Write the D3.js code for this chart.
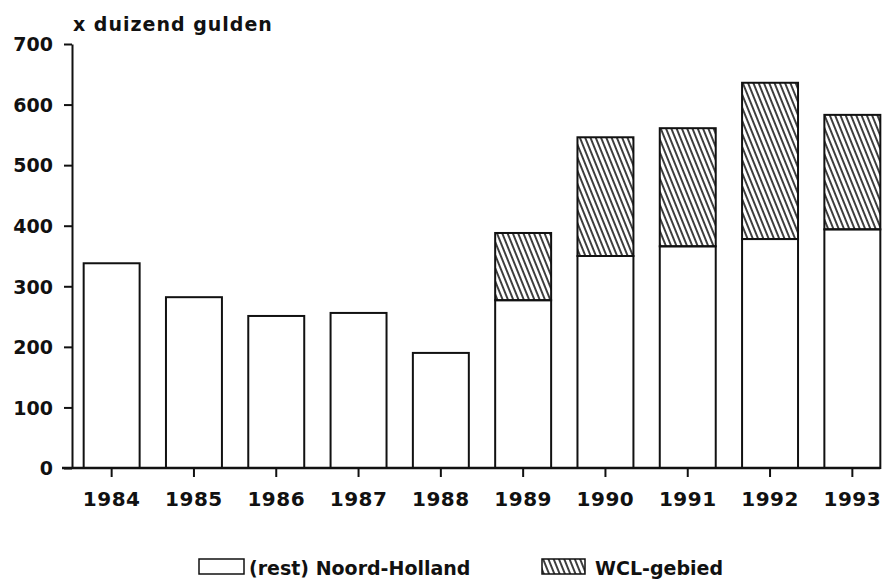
<!DOCTYPE html>
<html>
<head>
<meta charset="utf-8">
<script src="https://cdn.jsdelivr.net/npm/d3@7"></script>
<style>
  body { margin: 0; background: #fff; }
  svg text { font-family: "DejaVu Sans", sans-serif; font-weight: bold; fill: #111; }
</style>
</head>
<body>
<svg id="chart"></svg>
<script>
// values in thousands of guilders
const years = ['1984','1985','1986','1987','1988','1989','1990','1991','1992','1993']
const restNH = [338, 282, 251, 256, 190, 277, 350, 366, 378, 394]
const wcl = [0, 0, 0, 0, 0, 111, 196, 195, 258, 189]
const yTicks = [0, 100, 200, 300, 400, 500, 600, 700]
const seriesNames = ['(rest) Noord-Holland', 'WCL-gebied']

const width = 885, height = 585
const margin = {top: 44, right: 5, bottom: 117, left: 72}

const svg = d3.select('#chart')
  .attr('width', width)
  .attr('height', height)

// hatch for the WCL part
const defs = svg.append('defs')
defs.append('pattern')
  .attr('id', 'hatch')
  .attr('patternUnits', 'userSpaceOnUse')
  .attr('width', 4.9)
  .attr('height', 10)
  .attr('patternTransform', 'rotate(-22)')
  .append('line')
    .attr('x1', 1).attr('y1', 0)
    .attr('x2', 1).attr('y2', 10)
    .attr('stroke', '#111')
    .attr('stroke-width', 1.6)

const table = years.map((y, i) => ({year: y, rest: restNH[i], wcl: wcl[i]}))
const stacked = d3.stack().keys(['rest', 'wcl'])(table)

const x = d3.scaleBand()
  .domain(years)
  .range([70.5, 893.5])
  .paddingInner(0.32)
  .paddingOuter(0.16)

const y = d3.scaleLinear()
  .domain([0, 700])
  .range([height - margin.bottom, margin.top])

// bars
const fills = ['#fff', 'url(#hatch)']
svg.append('g')
  .selectAll('g')
  .data(stacked)
  .join('g')
    .attr('fill', (d, i) => fills[i])
    .attr('stroke', '#111')
    .attr('stroke-width', 2)
  .selectAll('rect')
  .data(d => d.filter(p => p[1] - p[0] > 0))
  .join('rect')
    .attr('x', d => x(d.data.year))
    .attr('y', d => y(d[1]))
    .attr('width', x.bandwidth())
    .attr('height', d => y(d[0]) - y(d[1]))

// y axis
const yAxis = svg.append('g')
  .attr('transform', 'translate(' + margin.left + ',0)')
  .call(d3.axisLeft(y).tickValues(yTicks).tickSize(8).tickSizeOuter(0).tickPadding(11))
yAxis.select('.domain').attr('stroke', '#111').attr('stroke-width', 2)
yAxis.selectAll('.tick line').attr('stroke', '#111').attr('stroke-width', 2)
yAxis.selectAll('.tick text').style('font-size', '19px').attr('dy', '0.36em')

// x axis
const xAxis = svg.append('g')
  .attr('transform', 'translate(0,' + y(0) + ')')
  .call(d3.axisBottom(x).tickSize(9).tickSizeOuter(0).tickPadding(15))
xAxis.select('.domain').remove()
xAxis.selectAll('.tick line').attr('stroke', '#111').attr('stroke-width', 2)
xAxis.selectAll('.tick text').style('font-size', '20px').style('letter-spacing', '0.5px')

svg.append('line')
  .attr('x1', 62)
  .attr('x2', x(years[years.length - 1]) + x.bandwidth())
  .attr('y1', y(0)).attr('y2', y(0))
  .attr('stroke', '#111')
  .attr('stroke-width', 2.5)

// unit label
svg.append('text')
  .attr('x', 73)
  .attr('y', 31)
  .style('font-size', '19px')
  .style('letter-spacing', '1px')
  .text('x duizend gulden')

// legend
const legend = svg.append('g')
  .selectAll('g')
  .data(seriesNames)
  .join('g')
    .attr('transform', (d, i) => 'translate(' + [199, 542][i] + ',559)')
legend.append('rect')
  .attr('width', (d, i) => [45, 43][i])
  .attr('height', 15)
  .attr('fill', (d, i) => fills[i])
  .attr('stroke', '#111')
  .attr('stroke-width', 1.5)
legend.append('text')
  .attr('x', (d, i) => [50, 53][i])
  .attr('y', 16)
  .style('font-size', '19px')
  .text(d => d)
</script>
</body>
</html>
